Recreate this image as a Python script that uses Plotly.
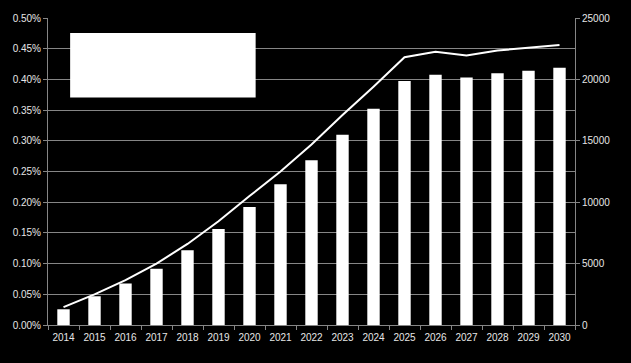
import plotly.graph_objects as go

years = [str(y) for y in range(2014, 2031)]
bar_values = [1280, 2340, 3380, 4580, 6080, 7820, 9600, 11460, 13420,
              15500, 17620, 19860, 20380, 20160, 20500, 20700, 20940]
line_values = [0.00029, 0.00050, 0.00073, 0.00100, 0.00132, 0.00169, 0.00210,
               0.00250, 0.00294, 0.00342, 0.00388, 0.00436, 0.00445, 0.00439,
               0.00447, 0.00451, 0.00456]

grid = "#868686"
txt = "#e6e6e6"
font = dict(family="Liberation Sans, Arial, sans-serif", size=10, color=txt)

fig = go.Figure()
fig.add_trace(go.Bar(x=years, y=bar_values, yaxis="y2", marker=dict(color="white", line=dict(width=0)),
                     showlegend=False))
fig.add_trace(go.Scatter(x=years, y=line_values, yaxis="y", mode="lines",
                         line=dict(color="white", width=2), showlegend=False))

fig.update_layout(
    width=631, height=363,
    margin=dict(l=48, r=56, t=12, b=38),
    paper_bgcolor="black", plot_bgcolor="black",
    font=font,
    bargap=0.6,
    xaxis=dict(type="category", tickson="boundaries", ticks="outside", ticklen=4,
               tickcolor=grid, showline=True, linecolor=grid, linewidth=1,
               showgrid=False, tickfont=font, tickangle=0, ticklabelstandoff=3),
    yaxis=dict(range=[0, 0.005], dtick=0.0005, tickformat=".2%", showgrid=True,
               gridcolor=grid, gridwidth=1, showline=True, linecolor=grid,
               ticks="outside", ticklen=4, tickcolor=grid, zeroline=False, tickfont=font),
    yaxis2=dict(range=[0, 25000], dtick=5000, tickformat="d", overlaying="y", side="right",
                showgrid=False, showline=True, linecolor=grid, ticks="outside",
                ticklen=4, tickcolor=grid, zeroline=False, tickfont=font),
    shapes=[dict(type="rect", xref="paper", yref="paper", x0=0.042, x1=0.394,
                 y0=0.741, y1=0.951, fillcolor="white", line=dict(width=0), layer="above")],
)

fig.write_html("out.html")
